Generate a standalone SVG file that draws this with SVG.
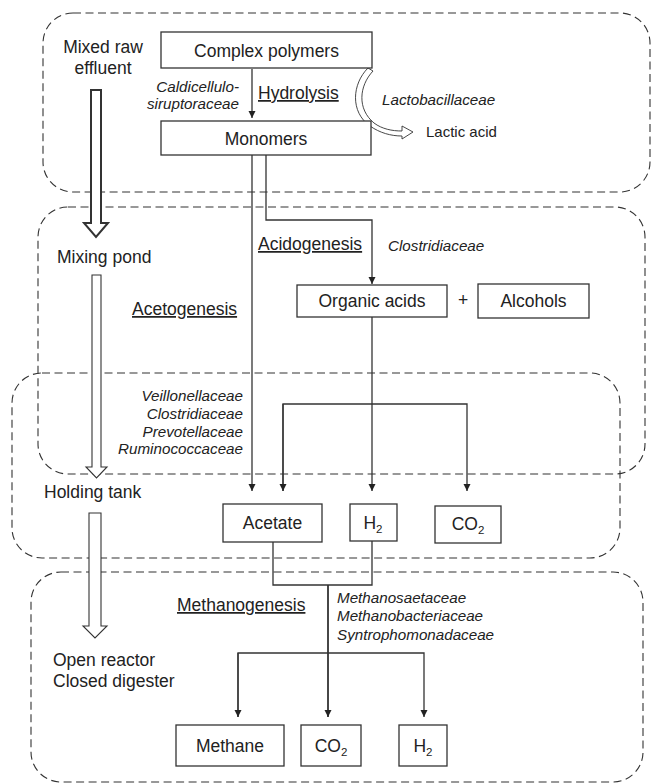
<svg xmlns="http://www.w3.org/2000/svg" width="651" height="784" viewBox="0 0 651 784">
<style>
text{font-family:"Liberation Sans",Arial,sans-serif;fill:#222}
.lb{font-size:17.5px}
.it{font-size:15.2px;font-style:italic}
.sm{font-size:15px}
.u{text-decoration:underline}
.mid{text-anchor:middle}
.end{text-anchor:end}
.sub{font-size:11.5px}
.zone{fill:none;stroke:#333;stroke-width:1.1;stroke-dasharray:8 4.5}
.box{fill:#fff;stroke:#333;stroke-width:1.3}
.ln{fill:none;stroke:#333;stroke-width:1.3}
.big{fill:#fff;stroke:#333;stroke-width:1.1}
</style>
<defs>
<marker id="ah" viewBox="0 0 10 10" refX="10" refY="5" markerWidth="7" markerHeight="8" markerUnits="userSpaceOnUse" orient="auto">
<path d="M0,0 L10,5 L0,10 Z" fill="#222"/>
</marker>
</defs>
<rect width="651" height="784" fill="#fff"/>

<g id="zones">
<rect id="zone1" class="zone" x="43" y="13" width="607" height="179" rx="30" ry="30"/>
<rect id="zone2" class="zone" x="38" y="207" width="607" height="267" rx="30" ry="30"/>
<rect id="zone3" class="zone" x="12" y="373" width="608" height="185" rx="30" ry="30"/>
<rect id="zone4" class="zone" x="31" y="572" width="612" height="210" rx="30" ry="30"/>
</g>

<g id="process-flow">
<g id="mixed-raw-effluent">
<text class="lb mid" x="103" y="53">Mixed raw</text>
<text class="lb mid" x="103" y="74">effluent</text>
</g>
<path id="arrow-raw" class="big" style="stroke-width:2" d="M91,90 H101 V223 H108 L96,237 L84,223 H91 Z"/>
<g id="mixing-pond"><text class="lb" x="57" y="263">Mixing pond</text></g>
<path id="arrow-pond" class="big" d="M92,275 H101 V467 H107 L96.5,478 L86,467 H92 Z"/>
<g id="holding-tank"><text class="lb" x="44" y="498">Holding tank</text></g>
<path id="arrow-tank" class="big" d="M89,513 H101 V626 H107 L95,638 L83,626 H89 Z"/>
<g id="open-reactor">
<text class="lb" x="53" y="666">Open reactor</text>
<text class="lb" x="53" y="687">Closed digester</text>
</g>
</g>

<g id="connectors">
<line class="ln" x1="252" y1="69" x2="252" y2="118" marker-end="url(#ah)"/>
<path id="lactic-arrow" fill="#fff" stroke="#333" stroke-width="0.9" d="M368,68 C352,84 350,112 370,126 C380,133 391,136 402,136 L402,139 L413,132 L402,126 L402,131 C392,131 382,129 374,123 C357,109 359,86 373,71 Z"/>
<line class="ln" x1="252" y1="155" x2="252" y2="491" marker-end="url(#ah)"/>
<polyline class="ln" points="266,155 266,220 372,220 372,284" marker-end="url(#ah)"/>
<line class="ln" x1="372" y1="317" x2="372" y2="491" marker-end="url(#ah)"/>
<polyline class="ln" points="283,491 283,404 467,404 467,491" marker-end="url(#ah)"/>
<line class="ln" x1="283" y1="404" x2="283" y2="491" marker-end="url(#ah)"/>
<polyline class="ln" points="273,542 273,585 372,585 372,541"/>
<line class="ln" style="stroke-width:1.8" x1="328" y1="585" x2="328" y2="717" marker-end="url(#ah)"/>
<polyline class="ln" points="238,717 238,653 424,653 424,717" marker-end="url(#ah)"/>
<line class="ln" x1="238" y1="653" x2="238" y2="717" marker-end="url(#ah)"/>
</g>

<g id="complex-polymers">
<rect class="box" x="161" y="32" width="211" height="36"/>
<text class="lb mid" x="266.5" y="56.5">Complex polymers</text>
</g>
<g id="hydrolysis">
<text class="it end" x="239" y="92">Caldicellulo-</text>
<text class="it end" x="239" y="109">siruptoraceae</text>
<text class="lb u" x="258" y="99">Hydrolysis</text>
</g>
<g id="lactic-acid">
<text class="it" x="382" y="105">Lactobacillaceae</text>
<text class="sm" x="426" y="137">Lactic acid</text>
</g>
<g id="monomers">
<rect class="box" x="161" y="121" width="210" height="34"/>
<text class="lb mid" x="266" y="144.5">Monomers</text>
</g>
<g id="acidogenesis">
<text class="lb u" x="258" y="250">Acidogenesis</text>
<text class="it" x="388" y="251">Clostridiaceae</text>
</g>
<g id="acetogenesis">
<text class="lb u" x="132" y="315">Acetogenesis</text>
<text class="it end" x="243" y="401">Veillonellaceae</text>
<text class="it end" x="243" y="419">Clostridiaceae</text>
<text class="it end" x="243" y="437">Prevotellaceae</text>
<text class="it end" x="243" y="454">Ruminococcaceae</text>
</g>
<g id="organic-acids">
<rect class="box" x="297" y="285" width="150" height="32"/>
<text class="lb mid" x="372" y="307">Organic acids</text>
</g>
<g id="plus"><text class="lb mid" x="463" y="306">+</text></g>
<g id="alcohols">
<rect class="box" x="478" y="284" width="111" height="34"/>
<text class="lb mid" x="533.5" y="307">Alcohols</text>
</g>
<g id="acetate">
<rect class="box" x="223" y="504" width="99" height="38"/>
<text class="lb mid" x="272.5" y="529">Acetate</text>
</g>
<g id="h2-mid">
<rect class="box" x="350" y="504" width="47" height="37"/>
<text class="lb mid" x="373" y="529">H<tspan class="sub" dy="4">2</tspan></text>
</g>
<g id="co2-mid">
<rect class="box" x="435" y="506" width="66" height="37"/>
<text class="lb mid" x="468" y="530">CO<tspan class="sub" dy="4">2</tspan></text>
</g>
<g id="methanogenesis">
<text class="lb u" x="177" y="611">Methanogenesis</text>
<text class="it" x="337" y="603">Methanosaetaceae</text>
<text class="it" x="337" y="621">Methanobacteriaceae</text>
<text class="it" x="337" y="640">Syntrophomonadaceae</text>
</g>
<g id="methane">
<rect class="box" x="176" y="725" width="108" height="41"/>
<text class="lb mid" x="230" y="752">Methane</text>
</g>
<g id="co2-out">
<rect class="box" x="301" y="725" width="60" height="41"/>
<text class="lb mid" x="331" y="752">CO<tspan class="sub" dy="4">2</tspan></text>
</g>
<g id="h2-out">
<rect class="box" x="399" y="725" width="48" height="41"/>
<text class="lb mid" x="423" y="752">H<tspan class="sub" dy="4">2</tspan></text>
</g>
</svg>
